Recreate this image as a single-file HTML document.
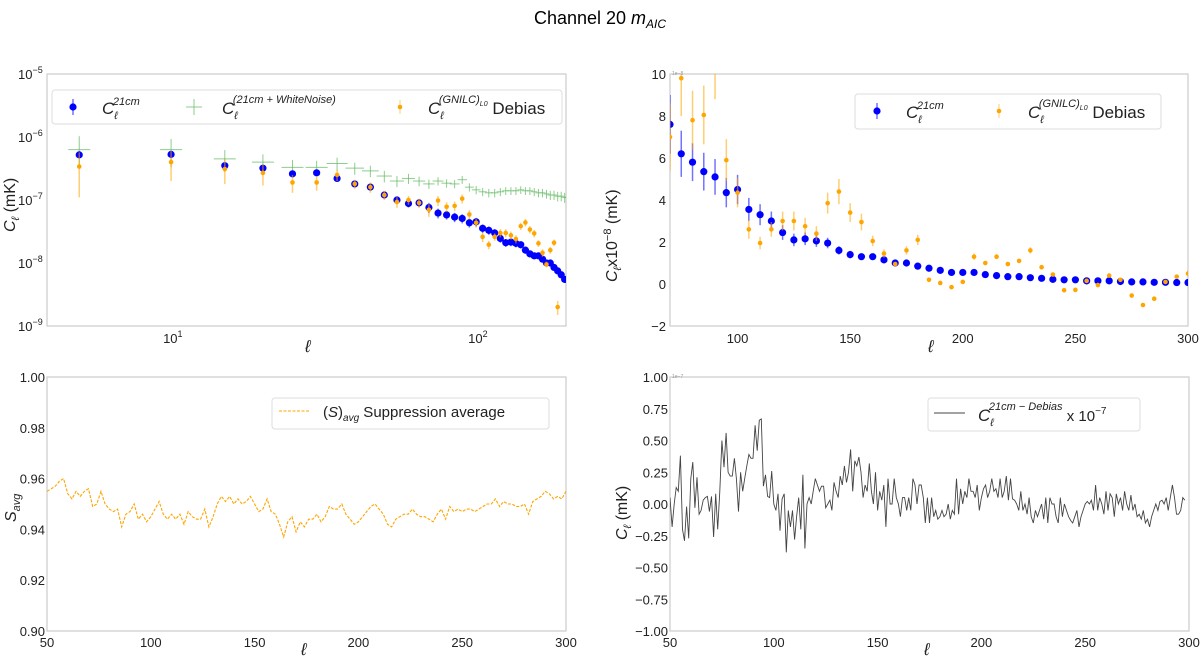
<!DOCTYPE html>
<html><head><meta charset="utf-8">
<style>
body{margin:0;background:#fff;}
svg{display:block;font-family:"Liberation Sans","DejaVu Sans",sans-serif;}
</style></head>
<body>
<svg id="fig" width="1200" height="657" viewBox="0 0 1200 657" xmlns="http://www.w3.org/2000/svg">
<text x="600" y="24" text-anchor="middle" font-size="18">Channel 20 <tspan font-style="italic">m</tspan><tspan font-style="italic" font-size="12" dy="4">AIC</tspan></text>
</svg>
<script>
// ---- data ----
const ells = [5,10,15,20,25,30,35,40,45,50,55,60,65,70,75,80,85,90,95,100,105,110,115,120,125,130,135,140,145,150,155,160,165,170,175,180,185,190,195,200,205,210,215,220,225,230,235,240,245,250,255,260,265,270,275,280,285,290,295,300];
// values in units of 1e-8 mK
const blue21 = [52,53,35,32,26,27,22,18,16,12,10,8.8,9.0,7.6,6.2,5.8,5.35,5.1,4.35,4.5,3.55,3.3,3.0,2.45,2.1,2.15,2.05,1.95,1.6,1.4,1.3,1.3,1.15,1.0,1.0,0.85,0.75,0.65,0.55,0.55,0.55,0.45,0.4,0.35,0.35,0.3,0.27,0.22,0.2,0.2,0.15,0.15,0.15,0.12,0.1,0.1,0.08,0.08,0.07,0.07];
const blueErr = [4,4,3,2.5,2,2,2,1.5,1.4,1.2,1.2,1.2,1.2,1.4,1.1,0.9,0.9,0.85,0.7,0.7,0.55,0.5,0.45,0.35,0.3,0.3,0.28,0.25,0.2,0.18,0.15,0.12,0.1,0.1,0.1,0.08,0.07,0.06,0.05,0.05,0.05,0.04,0.04,0.04,0.04,0.03,0.03,0.03,0.03,0.03,0.03,0.03,0.03,0.03,0.03,0.03,0.03,0.03,0.03,0.03];
const orangeDeb = [34,40,31,27,19,19,25,18,16,12,9.3,10,9.0,7.0,9.8,7.8,8.05,10.5,5.9,4.35,2.6,1.95,2.6,3.0,3.0,2.75,2.4,3.85,4.4,3.4,2.95,2.05,1.45,0.95,1.6,2.1,0.2,0.05,-0.15,0.1,1.3,1.0,1.3,0.95,1.1,1.6,0.8,0.45,-0.3,-0.28,0.15,-0.05,0.4,0.2,-0.55,-1.0,-0.7,0.1,0.35,0.5];
const orangeErr = [23,20,13,10,6,5,5,3,3,2,1.8,1.6,1.5,1.6,1.8,1.4,1.4,1.7,1.0,0.7,0.45,0.3,0.35,0.45,0.45,0.4,0.35,0.5,0.6,0.45,0.4,0.25,0.2,0.1,0.2,0.25,0.05,0.05,0.05,0.05,0.15,0.1,0.12,0.1,0.1,0.15,0.1,0.1,0.1,0.1,0.1,0.1,0.1,0.1,0.1,0.1,0.1,0.1,0.1,0.15];
const greenWN = [63,63,45,40,33,33,38,32,29,24,20,22,20,18,20,18.5,18,21,16,14.5,13.5,13,13,13.5,14,14,14,14.5,14,14,13.5,13,13,12.5,12,12,11.5,11.5,11,11,11,11,11,11,11,11,11,11,11,11,11,11,11,11,11,11,11,11,11,11];
const greenErr = [40,30,17,13,10,9,9,7,6,5,4,4,3.5,3,3,2.8,2.7,3,2.4,2.2,2,2,2,2,2,2,2,2,2,2,2,2,2,2,2,2,2,2,2,2,2,2,2,2,2,2,2,2,2,2,2,2,2,2,2,2,2,2,2,2];
const sStart = 50;
const sAvg = [0.955,0.956,0.957,0.959,0.960,0.954,0.952,0.955,0.953,0.955,0.956,0.949,0.950,0.955,0.950,0.948,0.947,0.948,0.941,0.946,0.947,0.950,0.944,0.946,0.943,0.945,0.948,0.951,0.946,0.944,0.946,0.944,0.946,0.942,0.947,0.945,0.944,0.944,0.948,0.941,0.945,0.950,0.953,0.951,0.953,0.950,0.952,0.950,0.951,0.953,0.950,0.947,0.948,0.952,0.947,0.946,0.942,0.937,0.943,0.945,0.939,0.943,0.941,0.944,0.944,0.946,0.943,0.945,0.949,0.948,0.948,0.950,0.946,0.944,0.942,0.943,0.945,0.947,0.949,0.950,0.948,0.946,0.942,0.941,0.944,0.945,0.946,0.946,0.948,0.946,0.945,0.945,0.944,0.943,0.946,0.948,0.944,0.949,0.947,0.948,0.947,0.948,0.948,0.947,0.948,0.949,0.950,0.950,0.952,0.949,0.951,0.950,0.950,0.949,0.949,0.950,0.946,0.951,0.952,0.953,0.955,0.954,0.952,0.953,0.952,0.955];
const sStep = 2;
const dStart = 50;
const diffDeb = [0.05,-0.18,0.0,0.13,0.10,0.38,-0.2,-0.29,-0.02,-0.27,0.2,0.33,-0.03,0.21,-0.08,-0.05,0.03,0.05,0.06,-0.06,0.06,-0.26,0.08,-0.2,0.1,0.5,0.29,0.56,0.25,0.22,0.22,0.36,0.2,-0.06,0.25,0.1,0.2,0.3,0.39,0.36,0.36,0.62,0.42,0.66,0.67,0.14,0.23,0.06,0.05,0.26,0.0,-0.05,0.08,-0.21,0.04,0.08,-0.38,-0.05,-0.18,-0.05,-0.28,-0.1,0.05,-0.2,0.23,-0.35,0.0,0.05,0.0,0.1,0.2,0.15,0.1,0.14,0.14,-0.03,0.0,0.03,-0.05,0.17,0.1,0.05,0.22,0.15,0.3,0.17,0.25,0.43,0.1,0.34,0.3,0.37,0.25,0.05,0.15,0.1,0.32,0.1,0.0,0.25,-0.05,0.1,0.03,0.15,-0.18,0.2,0.0,0.0,0.2,0.05,0.0,-0.1,0.05,0.05,-0.05,0.05,-0.05,0.2,0.15,0.0,0.15,0.15,0.05,-0.15,0.05,-0.15,0.05,-0.1,-0.05,-0.12,-0.1,-0.05,-0.1,-0.08,0.0,-0.12,-0.05,-0.08,0.2,-0.08,0.12,0.0,0.1,0.05,0.2,0.1,0.1,0.05,0.15,-0.05,0.05,0.12,0.15,0.05,0.1,0.2,0.1,0.12,0.05,0.2,0.05,0.1,0.22,0.03,0.2,0.04,0.03,0.0,-0.05,0.1,-0.05,0.0,-0.08,0.05,-0.1,-0.15,-0.05,-0.1,-0.05,0.0,-0.12,0.05,-0.15,0.05,0.0,0.0,-0.1,-0.15,0.05,-0.1,0.0,-0.05,-0.1,-0.13,-0.15,-0.1,-0.05,-0.18,-0.1,-0.05,0.0,0.02,0.0,0.03,-0.05,0.15,-0.05,0.05,0.0,-0.08,0.1,-0.05,0.08,0.05,-0.1,0.08,0.0,0.05,-0.05,0.1,0.0,-0.05,0.07,-0.05,0.0,-0.1,-0.08,-0.12,-0.05,-0.15,-0.12,-0.18,-0.1,-0.05,0.0,-0.05,0.02,0.03,0.0,0.05,-0.05,0.05,0.15,0.05,-0.08,-0.08,-0.05,0.05,0.03];
const tlXTicks = [10,100], tlXLabels = ['1','2'];
const tlYTicks = [-5,-6,-7,-8,-9];
const linXTicks = [50,100,150,200,250,300];
const trYTicks = [-2,0,2,4,6,8,10];
const blYTicks = [0.90,0.92,0.94,0.96,0.98,1.00];
const brYTicks = [-1.00,-0.75,-0.50,-0.25,0.00,0.25,0.50,0.75,1.00];

// ---- helpers ----
const NS='http://www.w3.org/2000/svg';
const svg=document.getElementById('fig');
function mk(tag,attrs,parent){const e=document.createElementNS(NS,tag);for(const k in attrs)e.setAttribute(k,attrs[k]);(parent||svg).appendChild(e);return e;}
function lin(d0,d1,r0,r1){return v=>r0+(v-d0)*(r1-r0)/(d1-d0);}
const BLUE='#0000ff', ORANGE='#ffa500', GREEN='#5cb85c';

function panel(name,x0,x1,y0,y1){
  const g=mk('g',{});
  
  
  const cp=mk('clipPath',{id:'cp-'+name},g);
  mk('rect',{x:x0,y:y0,width:x1-x0,height:y1-y0},cp);
  const fr=mk('rect',{x:x0,y:y0,width:x1-x0,height:y1-y0,fill:'none',stroke:'#cccccc','stroke-width':1.2},g);
  
  
  const plot=mk('g',{'clip-path':'url(#cp-'+name+')'},g);
  
  
  return {g,plot};
}
function txt(parent,x,y,s,attrs,name){
  const t=mk('text',Object.assign({x:x,y:y,'font-size':13,fill:'#222'},attrs||{}),parent);
  t.textContent=s;
  
  
  return t;
}
function errDot(parent,x,y,ylo,yhi,color,r,name){
  const gg=mk('g',{},parent);
  
  
  mk('line',{x1:x,x2:x,y1:ylo,y2:yhi,stroke:color,'stroke-width':1.5,'stroke-opacity':0.55},gg);
  mk('circle',{cx:x,cy:y,r:r,fill:color},gg);
}

// ---- Top-left: log-log ----
(function(){
  const x0=47,x1=566,y0=74,y1=326;
  const P=panel('top-left-panel',x0,x1,y0,y1);
  const lx=lin(Math.log10(3.92),Math.log10(197),x0,x1);
  const X=v=>lx(Math.log10(v));
  const ly=lin(-9,-5,y1,y0);
  const Y=v=>ly(Math.log10(Math.max(v,1e-12)));
  tlXTicks.forEach((t,i)=>{const tt=txt(P.g,X(t)-8,y1+17,'10');const s=mk('tspan',{'font-size':9,dy:-6},tt);s.textContent=tlXLabels[i];});
  tlYTicks.forEach(t=>{const tt=txt(P.g,18,ly(t)+5,'10');const s=mk('tspan',{'font-size':9,dy:-6},tt);s.textContent='−'+(-t);});
  ells.forEach((l,i)=>{
    const v=greenWN[i]*1e-8,e=greenErr[i]*1e-8;
    const gg=mk('g',{},P.plot);
    
    
    const x=X(l),y=Y(v);
    mk('line',{x1:x,x2:x,y1:Y(v+e),y2:Y(Math.max(v-e,v*0.5)),stroke:GREEN,'stroke-width':1,'stroke-opacity':0.7},gg);
    const hw=Math.max(3,Math.min(11,(X(l+2.5)-X(l-2.5))/2+1));
    mk('line',{x1:x-hw,x2:x+hw,y1:y,y2:y,stroke:GREEN,'stroke-width':1,'stroke-opacity':0.7},gg);
  });
  ells.forEach((l,i)=>{const v=blue21[i]*1e-8,e=blueErr[i]*1e-8;errDot(P.plot,X(l),Y(v),Y(v-e),Y(v+e),BLUE,3.6,'cl21-point');});
  ells.forEach((l,i)=>{const v=orangeDeb[i]*1e-8,e=orangeErr[i]*1e-8;if(v<=0)return;errDot(P.plot,X(l),Y(v),Y(Math.max(v-e,1e-12)),Y(v+e),ORANGE,2.3,'debias-point');});
  txt(P.g,305,352,'ℓ',{'font-size':17,'font-style':'italic'},'x-axis-title');
  const yt=txt(P.g,0,0,'C',{'font-size':16,'font-style':'italic',transform:'translate(15,232) rotate(-90)'},'y-axis-title');
  const s1=mk('tspan',{'font-size':11,dy:4},yt);s1.textContent='ℓ';const s2=mk('tspan',{dy:-4,'font-style':'normal'},yt);s2.textContent=' (mK)';
  const L=mk('g',{},P.g);
  mk('rect',{x:52,y:90,width:510,height:34,rx:3,fill:'#fff',stroke:'#ddd'},L);
  mk('line',{x1:73,x2:73,y1:99,y2:115,stroke:BLUE,'stroke-opacity':0.55,'stroke-width':1.5},L);mk('circle',{cx:73,cy:107,r:3.6,fill:BLUE},L);
  let t=txt(L,102,114,'C',{'font-size':17,'font-style':'italic'},'legend-cl21');let a=mk('tspan',{'font-size':11,dy:5},t);a.textContent='ℓ';a=mk('tspan',{'font-size':11,dx:-5,dy:-14},t);a.textContent='21cm';
  mk('line',{x1:186,x2:202,y1:107,y2:107,stroke:GREEN,'stroke-opacity':0.7},L);mk('line',{x1:194,x2:194,y1:99,y2:115,stroke:GREEN,'stroke-opacity':0.7},L);
  t=txt(L,222,114,'C',{'font-size':17,'font-style':'italic'},'legend-whitenoise');a=mk('tspan',{'font-size':11,dy:5},t);a.textContent='ℓ';a=mk('tspan',{'font-size':11,dx:-5,dy:-16},t);a.textContent='(21cm + WhiteNoise)';
  mk('line',{x1:400,x2:400,y1:100,y2:114,stroke:ORANGE,'stroke-opacity':0.55},L);mk('circle',{cx:400,cy:107,r:2.3,fill:ORANGE},L);
  t=txt(L,428,114,'C',{'font-size':17,'font-style':'italic'},'legend-debias');a=mk('tspan',{'font-size':11,dy:5},t);a.textContent='ℓ';a=mk('tspan',{'font-size':11,dx:-5,dy:-16},t);a.textContent='(GNILC)';a=mk('tspan',{'font-size':7,dy:3},t);a.textContent='L0';a=mk('tspan',{'font-size':17,'font-style':'normal',dy:8},t);a.textContent=' Debias';
})();

// ---- Top-right: linear ----
(function(){
  const x0=670,x1=1188,y0=74,y1=326;
  const P=panel('top-right-panel',x0,x1,y0,y1);
  const X=lin(70,300,x0,x1),Y=lin(-2,10,y1,y0);
  linXTicks.filter(t=>t>=70).forEach(t=>txt(P.g,X(t),y1+17,String(t),{'text-anchor':'middle'}));
  trYTicks.forEach(t=>txt(P.g,x0-4,Y(t)+5,t<0?'−'+(-t):String(t),{'text-anchor':'end'}));
  txt(P.g,x0+2,Y(10)+1,'1e−8',{'font-size':5,fill:'#999'},'offset-text');
  ells.forEach((l,i)=>{if(l<70)return;errDot(P.plot,X(l),Y(blue21[i]),Y(blue21[i]-blueErr[i]),Y(blue21[i]+blueErr[i]),BLUE,3.6,'cl21-point');});
  ells.forEach((l,i)=>{if(l<70)return;errDot(P.plot,X(l),Y(orangeDeb[i]),Y(orangeDeb[i]-orangeErr[i]),Y(orangeDeb[i]+orangeErr[i]),ORANGE,2.3,'debias-point');});
  txt(P.g,928,352,'ℓ',{'font-size':17,'font-style':'italic'},'x-axis-title');
  const yt=txt(P.g,0,0,'C',{'font-size':16,'font-style':'italic',transform:'translate(617,282) rotate(-90)'},'y-axis-title');
  let a=mk('tspan',{'font-size':11,dy:4},yt);a.textContent='ℓ';a=mk('tspan',{dy:-4,'font-style':'normal'},yt);a.textContent='x10';a=mk('tspan',{'font-size':11,dy:-6,'font-style':'normal'},yt);a.textContent='−8';a=mk('tspan',{dy:6,'font-style':'normal'},yt);a.textContent=' (mK)';
  const L=mk('g',{},P.g);
  mk('rect',{x:855,y:94,width:306,height:35,rx:3,fill:'#fff',stroke:'#ddd'},L);
  mk('line',{x1:877,x2:877,y1:103,y2:119,stroke:BLUE,'stroke-opacity':0.55,'stroke-width':1.5},L);mk('circle',{cx:877,cy:111,r:3.6,fill:BLUE},L);
  let t=txt(L,906,118,'C',{'font-size':17,'font-style':'italic'},'legend-cl21');a=mk('tspan',{'font-size':11,dy:5},t);a.textContent='ℓ';a=mk('tspan',{'font-size':11,dx:-5,dy:-14},t);a.textContent='21cm';
  mk('line',{x1:999,x2:999,y1:104,y2:118,stroke:ORANGE,'stroke-opacity':0.55},L);mk('circle',{cx:999,cy:111,r:2.3,fill:ORANGE},L);
  t=txt(L,1028,118,'C',{'font-size':17,'font-style':'italic'},'legend-debias');a=mk('tspan',{'font-size':11,dy:5},t);a.textContent='ℓ';a=mk('tspan',{'font-size':11,dx:-5,dy:-16},t);a.textContent='(GNILC)';a=mk('tspan',{'font-size':7,dy:3},t);a.textContent='L0';a=mk('tspan',{'font-size':17,'font-style':'normal',dy:8},t);a.textContent=' Debias';
})();

// ---- Bottom-left ----
(function(){
  const x0=47,x1=566,y0=377,y1=631;
  const P=panel('bottom-left-panel',x0,x1,y0,y1);
  const X=lin(50,300,x0,x1),Y=lin(0.90,1.00,y1,y0);
  linXTicks.forEach(t=>txt(P.g,X(t),y1+16,String(t),{'text-anchor':'middle'}));
  blYTicks.forEach(t=>txt(P.g,x0-2,Y(t)+5,t.toFixed(2),{'text-anchor':'end'}));
  const pts=sAvg.map((v,i)=>X(sStart+i*sStep).toFixed(1)+','+Y(v).toFixed(1)).join(' ');
  const pl=mk('polyline',{points:pts,fill:'none',stroke:ORANGE,'stroke-width':1.1,'stroke-dasharray':'3,1.5'},P.plot);
  
  
  txt(P.g,301,655,'ℓ',{'font-size':17,'font-style':'italic'},'x-axis-title');
  const yt=txt(P.g,0,0,'S',{'font-size':16,'font-style':'italic',transform:'translate(16,522) rotate(-90)'},'y-axis-title');
  const a=mk('tspan',{'font-size':11,dy:4},yt);a.textContent='avg';
  const L=mk('g',{},P.g);
  mk('rect',{x:272,y:398,width:277,height:31,rx:3,fill:'#fff',stroke:'#ddd'},L);
  mk('line',{x1:279,x2:309,y1:411,y2:411,stroke:ORANGE,'stroke-width':1.1,'stroke-dasharray':'3,1.5'},L);
  let t=txt(L,323,417,'(',{'font-size':15},'legend-suppression');let s=mk('tspan',{'font-style':'italic'},t);s.textContent='S';s=mk('tspan',{},t);s.textContent=')';s=mk('tspan',{'font-size':10,'font-style':'italic',dy:4},t);s.textContent='avg';s=mk('tspan',{dy:-4},t);s.textContent=' Suppression average';
})();

// ---- Bottom-right ----
(function(){
  const x0=670,x1=1189,y0=377,y1=631;
  const P=panel('bottom-right-panel',x0,x1,y0,y1);
  const X=lin(50,300,x0,x1),Y=lin(-1,1,y1,y0);
  linXTicks.forEach(t=>txt(P.g,X(t),y1+16,String(t),{'text-anchor':'middle'}));
  brYTicks.forEach(t=>txt(P.g,x0-2,Y(t)+5,(t<0?'−':'')+Math.abs(t).toFixed(2),{'text-anchor':'end'}));
  txt(P.g,x0+2,Y(1)+1,'1e−7',{'font-size':5,fill:'#999'},'offset-text');
  const pts=diffDeb.map((v,i)=>X(dStart+i).toFixed(1)+','+Y(v).toFixed(1)).join(' ');
  const pl=mk('polyline',{points:pts,fill:'none',stroke:'#444','stroke-width':0.9},P.plot);
  
  
  txt(P.g,924,655,'ℓ',{'font-size':17,'font-style':'italic'},'x-axis-title');
  const yt=txt(P.g,0,0,'C',{'font-size':16,'font-style':'italic',transform:'translate(627,540) rotate(-90)'},'y-axis-title');
  let a=mk('tspan',{'font-size':11,dy:4},yt);a.textContent='ℓ';a=mk('tspan',{dy:-4,'font-style':'normal'},yt);a.textContent=' (mK)';
  const L=mk('g',{},P.g);
  mk('rect',{x:928,y:398,width:212,height:33,rx:3,fill:'#fff',stroke:'#ddd'},L);
  mk('line',{x1:934,x2:965,y1:413,y2:413,stroke:'#444','stroke-width':1},L);
  let t=txt(L,978,421,'C',{'font-size':17,'font-style':'italic'},'legend-difference');a=mk('tspan',{'font-size':11,dy:5},t);a.textContent='ℓ';a=mk('tspan',{'font-size':11,dx:-5,dy:-16},t);a.textContent='21cm − Debias';a=mk('tspan',{'font-size':15,'font-style':'normal',dy:11},t);a.textContent=' x 10';a=mk('tspan',{'font-size':10,'font-style':'normal',dy:-7},t);a.textContent='−7';
})();
</script>
</body></html>
